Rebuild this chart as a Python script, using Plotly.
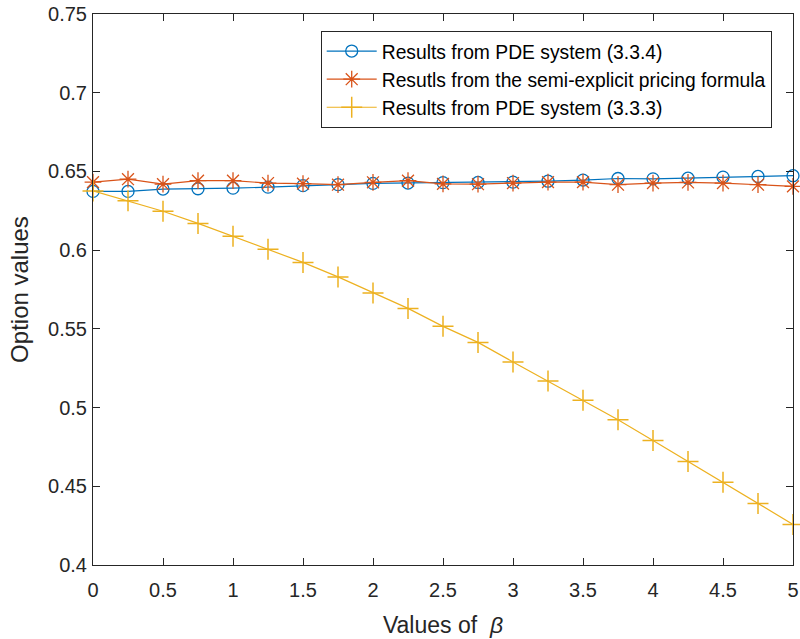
import plotly.graph_objects as go

beta = [0, 0.25, 0.5, 0.75, 1.0, 1.25, 1.5, 1.75, 2.0, 2.25, 2.5,
        2.75, 3.0, 3.25, 3.5, 3.75, 4.0, 4.25, 4.5, 4.75, 5.0]

pde_334 = [0.6373, 0.6373, 0.6388, 0.6390, 0.6394, 0.6400, 0.6410, 0.6416, 0.6424, 0.6426, 0.6429,
           0.6430, 0.6432, 0.6438, 0.6445, 0.6455, 0.6453, 0.6457, 0.6464, 0.6468, 0.6473]

semi_explicit = [0.6432, 0.6451, 0.6419, 0.6441, 0.6441, 0.6426, 0.6422, 0.6416, 0.6431, 0.6441, 0.6421,
                 0.6419, 0.6426, 0.6432, 0.6432, 0.6416, 0.6426, 0.6430, 0.6426, 0.6416, 0.6405]

pde_333 = [0.6376, 0.6313, 0.6247, 0.6170, 0.6089, 0.6006, 0.5922, 0.5830, 0.5728, 0.5630, 0.5516,
           0.5414, 0.5290, 0.5169, 0.5046, 0.4923, 0.4791, 0.4657, 0.4526, 0.4391, 0.4258]

names = ["Results from PDE system (3.3.4)",
         "Resutls from the semi-explicit pricing formula",
         "Results from PDE system (3.3.3)"]

x_ticks = [0, 0.5, 1, 1.5, 2, 2.5, 3, 3.5, 4, 4.5, 5]
x_ticklabels = ["0", "0.5", "1", "1.5", "2", "2.5", "3", "3.5", "4", "4.5", "5"]
y_ticks = [0.4, 0.45, 0.5, 0.55, 0.6, 0.65, 0.7, 0.75]
y_ticklabels = ["0.4", "0.45", "0.5", "0.55", "0.6", "0.65", "0.7", "0.75"]

FONT = "Liberation Sans, Arial, Helvetica, sans-serif"
AX = "#262626"

fig = go.Figure()
fig.add_trace(go.Scatter(
    x=beta, y=pde_334, name=names[0], mode="lines+markers", cliponaxis=False,
    line=dict(color="#0072BD", width=1.2),
    marker=dict(symbol="circle-open", size=12, color="#0072BD", line=dict(width=1.3)),
))
fig.add_trace(go.Scatter(
    x=beta, y=semi_explicit, name=names[1], mode="lines+markers", cliponaxis=False,
    line=dict(color="#D95319", width=1.2),
    marker=dict(symbol="asterisk-open", size=14, color="#D95319", line=dict(width=1.3, color="#D95319")),
))
fig.add_trace(go.Scatter(
    x=beta, y=pde_333, name=names[2], mode="lines+markers", cliponaxis=False,
    line=dict(color="#EDB120", width=1.2),
    marker=dict(symbol="cross-thin-open", size=15, color="#EDB120", line=dict(width=1.5, color="#EDB120")),
))

axis_common = dict(
    showline=True, linecolor=AX, linewidth=1, mirror="allticks",
    ticks="inside", ticklen=7, tickwidth=1, tickcolor=AX,
    showgrid=False, zeroline=False, ticklabeloverflow="allow", automargin=False,
    tickfont=dict(family=FONT, size=20, color=AX),
)

fig.update_layout(
    width=800, height=639,
    margin=dict(l=93, r=7, t=14, b=74, autoexpand=False),
    paper_bgcolor="white", plot_bgcolor="white",
    font=dict(family=FONT, color=AX),
    xaxis=dict(range=[0, 5], tickvals=x_ticks, ticktext=x_ticklabels, ticklabelstandoff=7,
               title=dict(text="Values of\u00a0 <i>β</i>", font=dict(family=FONT, size=23, color=AX), standoff=16),
               **axis_common),
    yaxis=dict(range=[0.4, 0.75], tickvals=y_ticks, ticktext=y_ticklabels, ticklabelstandoff=1,
               title=dict(text="Option values", font=dict(family=FONT, size=24, color=AX), standoff=12),
               **axis_common),
    legend=dict(x=0.3253, y=0.9691, xanchor="left", yanchor="top",
                bgcolor="white", bordercolor=AX, borderwidth=1,
                font=dict(family=FONT, size=19.3, color="black"),
                itemwidth=50, tracegroupgap=0),
    showlegend=True,
)

fig.write_html("out.html")
